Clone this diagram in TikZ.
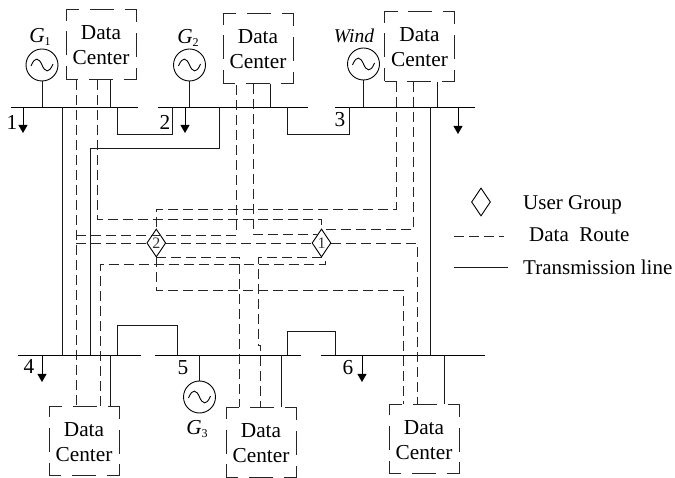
\documentclass[tikz,border=0pt]{standalone}
\usepackage{fontspec}
\setmainfont{Liberation Serif}
\usetikzlibrary{shapes.geometric,arrows.meta}
\newcommand{\txtsize}{\fontsize{21.3}{25}\selectfont}
\newcommand{\legsize}{\fontsize{21}{25}\selectfont}
\newcommand{\dctext}{\rule{0pt}{15.5pt}Data\\Center}
\newcommand{\gensub}[2]{\textit{#1}\raisebox{-3.5pt}{\fontsize{12}{12}\selectfont #2}}
\tikzset{
  wire/.style={line width=0.9pt,black!90},
  busbar/.style={line width=0.9pt,black},
  route/.style={line width=0.9pt,black!85,dash pattern=on 10pt off 5pt},
  dcbox/.style={draw=black!85,line width=0.9pt,dash pattern=on 24pt off 10.75pt,dash phase=12pt,minimum width=70pt,minimum height=69.5pt,inner sep=0pt,align=center,font=\txtsize,text=black},
  gencircle/.style={circle,draw,line width=0.9pt,minimum size=32pt,inner sep=0pt},
  usergroup/.style={diamond,draw,line width=0.9pt,fill=white,minimum width=19pt,minimum height=28pt,inner sep=0pt,font=\fontsize{16}{16}\selectfont,text=black!80},
  lbl/.style={inner sep=0pt,font=\txtsize},
  leg/.style={inner sep=0pt,font=\legsize,anchor=west},
  loadarrow/.style={line width=0.9pt,-{Triangle[length=8pt,width=9pt]}},
  sinewave/.style={line width=0.9pt}
}
\begin{document}
\begin{tikzpicture}[x=1pt,y=-1pt]
\useasboundingbox (0,0) rectangle (675,478);
% bus reference levels
\coordinate (top) at (0,107);
\coordinate (bot) at (0,355);
% data centres
\node[dcbox] (dc1) at (101,44.5) {\dctext};
\node[dcbox] (dc2) at (258,48.5) {\dctext};
\node[dcbox] (dc3) at (419.5,46.5) {\dctext};
\node[dcbox] (dc4) at (84,441) {\dctext};
\node[dcbox] (dc5) at (261,442.5) {\dctext};
\node[dcbox] (dc6) at (424,439) {\dctext};
% generators
\node[gencircle] (g1) at (42,65) {};
\node[gencircle] (g2) at (189.5,65) {};
\node[gencircle] (g3) at (199.5,397) {};
\node[gencircle] (g4) at (363.5,64) {};
\foreach \g in {g1,g2,g3,g4}
  \draw[sinewave,shift={(\g.center)}] (-11,1) .. controls (-7,-9) and (-3,-7) .. (0,0) .. controls (3,7) and (7,9) .. (11,-1);
% buses
\draw[busbar] (11,0 |- top) -- (138,0 |- top);
\draw[busbar] (158,0 |- top) -- (308,0 |- top);
\draw[busbar] (335,0 |- top) -- (475,0 |- top);
\draw[busbar] (18,0 |- bot) -- (141,0 |- bot);
\draw[busbar] (155,0 |- bot) -- (301,0 |- bot);
\draw[busbar] (321,0 |- bot) -- (485,0 |- bot);
% generator ties
\draw[wire] (g1.south) -- (g1.center |- top);
\draw[wire] (g2.south) -- (g2.center |- top);
\draw[wire] (g4.south) -- (g4.center |- top);
\draw[wire] (g3.north) -- (g3.center |- bot);
% data centre power ties
\draw[wire] (110,0 |- dc1.south) -- (110,0 |- top);
\draw[wire] (270,0 |- dc2.south) -- (270,0 |- top);
\draw[wire] (437,0 |- dc3.south) -- (437,0 |- top);
\draw[wire] (110,0 |- bot) -- (110,0 |- dc4.north);
\draw[wire] (281,0 |- bot) -- (281,0 |- dc5.north);
\draw[wire] (444,0 |- bot) -- (444,0 |- dc6.north);
% transmission lines
\draw[wire] (62.5,0 |- top) -- (62.5,0 |- bot);
\draw[wire] (90,0 |- bot) -- (90,148) -- (219,148) -- (219,0 |- top);
\draw[wire] (117,0 |- top) -- (117,134) -- (172,134) -- (172,0 |- top);
\draw[wire] (287,0 |- top) -- (287,134) -- (349,134) -- (349,0 |- top);
\draw[wire] (430,0 |- top) -- (430,0 |- bot);
\draw[wire] (117,0 |- bot) -- (117,325) -- (177,325) -- (177,0 |- bot);
\draw[wire] (287,0 |- bot) -- (287,331) -- (335,331) -- (335,0 |- bot);
% loads
\draw[loadarrow] (23,0 |- top) -- (23,133);
\draw[loadarrow] (185,0 |- top) -- (185,133);
\draw[loadarrow] (458,0 |- top) -- (458,134);
\draw[loadarrow] (42,0 |- bot) -- (42,382);
\draw[loadarrow] (362,0 |- bot) -- (362,382);
% user groups
\node[usergroup] (ug2) at (156.3,243) {2};
\node[usergroup] (ug1) at (321.5,243) {1};
% data routes
\draw[route] (76,0 |- dc1.south) -- (76,0 |- dc4.north);
\draw[route] (76,235) -- (236,235) -- (236,0 |- dc2.south);
\draw[route] (76,0 |- ug2.west) -- (ug2.west);
\draw[route] (ug2.east) -- (ug1.west);
\draw[route] (ug1.east) -- (417,0 |- ug1.east) -- (417,0 |- dc6.north);
\draw[route] (97,0 |- dc1.south) -- (97,219) -- (ug1.north |- 0,219) -- (ug1.north);
\draw[route] (396,0 |- dc3.south) -- (396,209) -- (ug2.north |- 0,209) -- (ug2.north);
\draw[route] (253,0 |- dc2.south) -- (253,234) -- (318,234);
\draw[route] (413,0 |- dc3.south) -- (413,229.5) -- (322,229.5);
\draw[route] (ug2.south) -- (239.5,0 |- ug2.south) -- (239.5,0 |- dc5.north);
\draw[route] (ug2.south) -- (ug2.south |- 0,290.5) -- (403,290.5) -- (403,0 |- dc6.north);
\draw[route] (100,0 |- dc4.north) -- (100,264.5) -- (325,264.5) -- (325,0 |- ug1.south);
\draw[route] (ug1.south) -- (258,0 |- ug1.south) -- (258,345) -- (260.5,345) -- (260.5,0 |- dc5.north);
% labels
\node[lbl] (lg1) at (40,37) {\gensub{G}{1}};
\node[lbl] (lg2) at (188,38) {\gensub{G}{2}};
\node[lbl] (lg3) at (197,429) {\gensub{G}{3}};
\node[lbl,font=\fontsize{19.5}{24}\selectfont\itshape] (lg4) at (354,36) {Wind};
\node[lbl] (n1) at (12,122) {1};
\node[lbl] (n2) at (165,122) {2};
\node[lbl] (n3) at (340,120) {3};
\node[lbl] (n4) at (29,366) {4};
\node[lbl] (n5) at (183,368) {5};
\node[lbl] (n6) at (348,368) {6};
% legend
\node[usergroup] (lgd) at (481,202) {};
\coordinate (la) at (454,236);
\coordinate (lb) at (504,236);
\coordinate (lc) at (454,267);
\coordinate (ld) at (508,267);
\draw[route] (la) -- (lb);
\draw[wire] (lc) -- (ld);
\node[leg] (t1) at (523,204.5) {User Group};
\node[leg] (t2) at (529,235) {Data\ \ Route};
\node[leg] (t3) at (523,267) {Transmission line};
\end{tikzpicture}
\end{document}
